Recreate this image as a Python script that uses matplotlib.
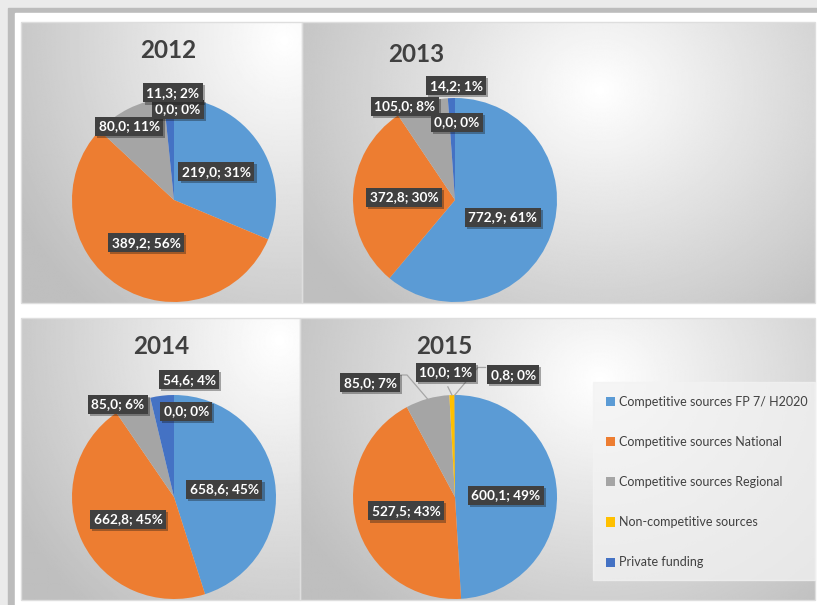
import numpy as np
import matplotlib
matplotlib.use("Agg")
import matplotlib.pyplot as plt
import matplotlib.patheffects as pe
from matplotlib.patches import Rectangle

plt.rcParams['font.family'] = ['Lato', 'DejaVu Sans']

# data
sources = ['Competitive sources FP 7/ H2020', 'Competitive sources National',
           'Competitive sources Regional', 'Non-competitive sources', 'Private funding']
colors = ['#5B9BD5', '#ED7D31', '#A5A5A5', '#FFC000', '#4472C4']
years = ['2012', '2013', '2014', '2015']
values_2012 = [219.0, 389.2, 80.0, 0.0, 11.3]
values_2013 = [772.9, 372.8, 105.0, 0.0, 14.2]
values_2014 = [658.6, 662.8, 85.0, 0.0, 54.6]
values_2015 = [600.1, 527.5, 85.0, 10.0, 0.8]
pct_2012 = [31, 56, 11, 0, 2]
pct_2013 = [61, 30, 8, 0, 1]
pct_2014 = [45, 45, 6, 0, 4]
pct_2015 = [49, 43, 7, 1, 0]

values = [values_2012, values_2013, values_2014, values_2015]
pcts = [pct_2012, pct_2013, pct_2014, pct_2015]

# layout (pixels, image coords: y down)
W, H = 817, 605
R = 102
panels = [(21, 22, 302, 303), (302, 22, 815, 303), (21, 318, 300, 600), (300, 318, 815, 600)]
centers = [(174, 200), (455, 200), (174, 497), (455, 497)]
title_pos = [(168, 51), (416, 55), (161, 347), (444, 346)]
glow = [(285, 40, 270, 300), (600, 90, 300, 260), (280, 340, 270, 300), (600, 380, 300, 260)]
# label spots for the small slices (gray, yellow, dark blue), in pie radii
small_pos = [
    [(-0.44, 0.725), (0.04, 0.89), (-0.01, 1.05)],
    [(-0.49, 0.92), (0.02, 0.76), (0.01, 1.12)],
    [(-0.55, 0.91), (0.12, 0.84), (0.15, 1.15)],
    [(-0.83, 1.12), (-0.09, 1.22), (0.57, 1.20)],
]
# leader lines in 2015 (points from the label side, in pie radii)
leaders_2015 = {2: [(-0.54, 1.196), (-0.47, 1.196)],
                3: [(-0.07, 1.08)],
                4: [(0.30, 1.27), (0.225, 1.27)]}


def Y(y):
    return H - y


fig = plt.figure(figsize=(W / 100, H / 100), dpi=100)
fig.patch.set_facecolor('#ebebeb')
ax = fig.add_axes([0, 0, 1, 1])

# frame
ax.add_patch(Rectangle((8, 0), W - 8, Y(8), color='#bcbcbc', zorder=0))
ax.add_patch(Rectangle((15, 0), W - 15, Y(13), color='white', zorder=0))

# panel backgrounds
for (x0, y0, x1, y1), (gx, gy, sx, sy) in zip(panels, glow):
    xs = np.linspace(x0, x1, 300)
    ys = np.linspace(y0, y1, 300)
    X, Yg = np.meshgrid(xs, ys)
    d = np.sqrt(((X - gx) / sx) ** 2 + ((Yg - gy) / sy) ** 2)
    v = 1 - 0.22 * np.clip(d, 0, 1.15)
    ax.imshow(v, cmap='gray', vmin=0, vmax=1, extent=(x0, x1, Y(y1), Y(y0)),
              origin='upper', interpolation='bilinear', zorder=1)
    ax.add_patch(Rectangle((x0, Y(y1)), x1 - x0, y1 - y0, fill=False,
                           ec='#dedede', lw=1, zorder=1.5))


def label(x, y, s):
    t = ax.text(x, y, s, ha='center', va='center', color='white', fontsize=9.8,
                fontweight='bold', zorder=6,
                bbox=dict(boxstyle='square,pad=0.26', fc='#404040', ec='none'))
    t.get_bbox_patch().set_path_effects(
        [pe.SimplePatchShadow(offset=(1.5, -1.5), alpha=0.35), pe.Normal()])


for i, yr in enumerate(years):
    cx, cy = centers[i]
    cy = Y(cy)
    wedges, _ = ax.pie(values[i], colors=colors, startangle=90, counterclock=False,
                       center=(cx, cy), radius=R, wedgeprops=dict(linewidth=0))
    for w in wedges:
        w.set_zorder(3)
    tx, ty = title_pos[i]
    ax.text(tx, Y(ty), yr, ha='center', va='center', fontsize=17.5,
            fontweight='bold', color='#404040', zorder=5)
    for j, (v, p) in enumerate(zip(values[i], pcts[i])):
        s = f"{v:.1f}".replace('.', ',') + f"; {p}%"
        w = wedges[j]
        mid = np.deg2rad((w.theta1 + w.theta2) / 2)
        if j < 2:
            x, y = cx + 0.5 * R * np.cos(mid), cy + 0.5 * R * np.sin(mid)
        else:
            dx, dy = small_pos[i][j - 2]
            x, y = cx + dx * R, cy + dy * R
        if i == 3 and j in leaders_2015:
            pts = [(cx + a * R, cy + b * R) for a, b in leaders_2015[j]]
            pts.append((cx + R * np.cos(mid), cy + R * np.sin(mid)))
            ax.plot([p_[0] for p_ in pts], [p_[1] for p_ in pts], color='#a6a6a6',
                    lw=0.9, zorder=4)
        label(x, y, s)

# legend
ax.add_patch(Rectangle((593, Y(580)), 815 - 593, 580 - 382, color='#f3f3f3',
                       alpha=0.75, zorder=2))
ax.legend(wedges, sources, loc='upper left', bbox_to_anchor=(606 / W, 1 - 396 / H),
          bbox_transform=fig.transFigure, frameon=False, fontsize=9.0,
          labelspacing=2.25, handlelength=0.75, handleheight=0.75,
          handletextpad=0.3, borderpad=0, borderaxespad=0, labelcolor='#404040')

ax.set_xlim(0, W)
ax.set_ylim(0, H)
ax.set_aspect('auto')
ax.axis('off')

fig.savefig('out.png', dpi=100, facecolor=fig.get_facecolor())
